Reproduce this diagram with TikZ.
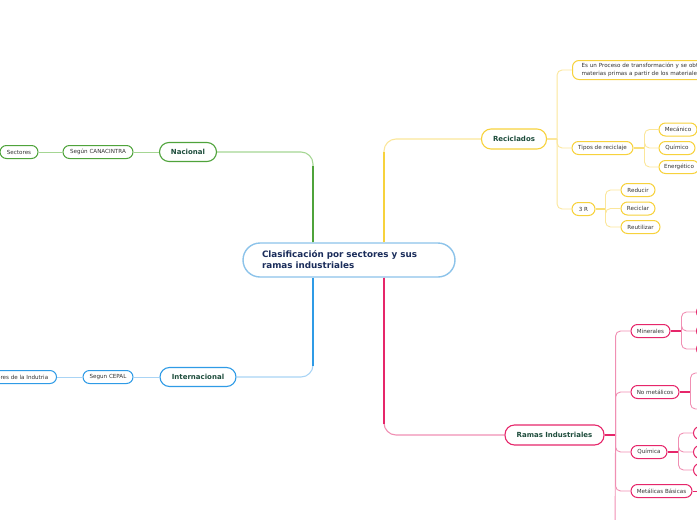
\documentclass[tikz,border=0pt]{standalone}
\usepackage{fontspec}
\setmainfont{DejaVu Sans}
\definecolor{rootln}{HTML}{8CC3EA}
\definecolor{rootxt}{HTML}{1B2D5B}
\definecolor{maintx}{HTML}{1E4D3C}
\definecolor{subtx}{HTML}{333333}
\definecolor{grn}{HTML}{4FA33B}
\definecolor{grnl}{HTML}{A5D693}
\definecolor{blu}{HTML}{2F9BE6}
\definecolor{blul}{HTML}{A9D4F5}
\definecolor{ylw}{HTML}{F7D23C}
\definecolor{ylwl}{HTML}{FBE69A}
\definecolor{red}{HTML}{E6266A}
\definecolor{redl}{HTML}{F08FB3}
\begin{document}
\begin{tikzpicture}[
    x=1pt, y=-1pt,
    rootnd/.style={draw=rootln, rounded corners=17pt, line width=1.4pt, fill=white,
                   font=\fontsize{8.8}{11}\selectfont\bfseries, text=rootxt,
                   minimum width=212pt, minimum height=34pt, inner xsep=19pt,
                   text width=174pt, align=left},
    mainnd/.style={draw, rounded corners=9.5pt, line width=1.1pt, fill=white,
                   font=\fontsize{7}{8}\selectfont\bfseries, text=maintx,
                   minimum height=19pt, inner xsep=2pt},
    subnd/.style={draw, rounded corners=6.5pt, line width=1pt, fill=white,
                  font=\fontsize{5.6}{7.5}\selectfont, text=subtx,
                  minimum height=13pt, inner xsep=2pt, inner ysep=1pt},
    thk/.style={line width=2.6pt},
    thn/.style={line width=1.1pt, rounded corners=12pt},
    stub/.style={line width=1.6pt},
    brk/.style={line width=0.9pt, rounded corners=5pt}
  ]
  \path[use as bounding box, clip] (0,0) rectangle (697,520);
  % Centre
  \node[rootnd] (root) at (349,260) {Clasificación por sectores y sus\\ramas industriales};
  % Main topics
  \node[mainnd, draw=grn, minimum width=57pt] (nac) at (188,152) {Nacional};
  \node[mainnd, draw=blu, minimum width=76pt] (intl) at (198,377) {Internacional};
  \node[mainnd, draw=ylw, minimum width=65pt, minimum height=20pt] (recic) at (514,139) {Reciclados};
  \node[mainnd, draw=red, minimum width=99pt, minimum height=20pt] (ramas) at (554.5,435) {Ramas Industriales};
  % Nacional side
  \node[subnd, draw=grn, minimum width=70pt] (canac) at (98,152) {Según CANACINTRA};
  \node[subnd, draw=grn, minimum width=38pt] (sect) at (19,152) {Sectores};
  % Internacional side
  \node[subnd, draw=blu, minimum width=50pt] (cepal) at (108,377) {Segun CEPAL};
  \node[subnd, draw=blu, minimum width=80pt, anchor=east] (sind) at (57,377) {Sectores de la Indutria};
  % Reciclados side
  \node[subnd, draw=ylw, anchor=west, minimum height=19pt, text width=150pt, align=left,
        inner xsep=9pt] (def) at (572,70)
        {Es un Proceso de transformación y se obt\\materias primas a partir de los materiales};
  \node[subnd, draw=ylw, minimum width=61pt] (tipos) at (602.5,148) {Tipos de reciclaje};
  \node[subnd, draw=ylw, minimum width=23pt] (tresr) at (583.5,209) {3 R};
  \node[subnd, draw=ylw, minimum width=38pt] (mec) at (678,129.5) {Mecánico};
  \node[subnd, draw=ylw, minimum width=36pt] (quim) at (677,148) {Químico};
  \node[subnd, draw=ylw, minimum width=40pt] (ener) at (679,167) {Energético};
  \node[subnd, draw=ylw, minimum width=34pt] (reduc) at (638,190) {Reducir};
  \node[subnd, draw=ylw, minimum width=34pt] (recla) at (638,208.5) {Reciclar};
  \node[subnd, draw=ylw, minimum width=39pt] (reuti) at (640.5,227) {Reutilizar};
  % Ramas side
  \node[subnd, draw=red, minimum width=39pt] (miner) at (650.5,331) {Minerales};
  \node[subnd, draw=red, minimum width=48pt] (nomet) at (655,392) {No metálicos};
  \node[subnd, draw=red, minimum width=36pt] (quimc) at (649,452) {Química};
  \node[subnd, draw=red, minimum width=61pt] (metb) at (661.5,491) {Metálicas Básicas};
  \foreach \i/\y in {1/312,2/331,3/349}{
    \node[subnd, draw=red, anchor=west, minimum width=30pt] (min\i) at (696,\y) {};
  }
  \foreach \i/\y in {1/433,2/452,3/470}{
    \node[subnd, draw=red, anchor=west, minimum width=30pt] (qui\i) at (693,\y) {};
  }
  \coordinate (nm1) at (708,373);
  \coordinate (nm2) at (708,409);
  \coordinate (mb1) at (708,491);
  \coordinate (rend) at (615,530);
  % Branches from the centre
  \draw[thn, grnl] ([xshift=-36pt]root.north) |- (nac.east);
  \draw[thk, grn] ([xshift=-36pt]root.north) -- ++(0,-76);
  \draw[thn, ylwl] ([xshift=35pt]root.north) |- (recic.west);
  \draw[thk, ylw] ([xshift=35pt]root.north) -- ++(0,-90);
  \draw[thn, blul] ([xshift=-36pt]root.south) |- (intl.east);
  \draw[thk, blu] ([xshift=-36pt]root.south) -- ++(0,88);
  \draw[thn, redl] ([xshift=35pt]root.south) |- (ramas.west);
  \draw[thk, red] ([xshift=35pt]root.south) -- ++(0,146);
  % Left chains
  \draw[brk, grnl] (nac.west) -- (canac.east);
  \draw[brk, grnl] (canac.west) -- (sect.east);
  \draw[brk, blul] (intl.west) -- (cepal.east);
  \draw[brk, blul] (cepal.west) -- (sind.east);
  % Reciclados brackets
  \draw[stub, ylwl] (recic.east) -- ++(10,0) coordinate (rb);
  \foreach \c in {def,tipos,tresr} \draw[brk, ylwl] (rb) |- (\c.west);
  \draw[stub, ylw!70] (tipos.east) -- ++(11,0) coordinate (tb);
  \foreach \c in {mec,quim,ener} \draw[brk, ylwl] (tb) |- (\c.west);
  \draw[stub, ylw!70] (tresr.east) -- ++(10,0) coordinate (trb);
  \foreach \c in {reduc,recla,reuti} \draw[brk, ylwl] (trb) |- (\c.west);
  % Ramas brackets
  \draw[stub, red] (ramas.east) -- ++(11,0) coordinate (ramb);
  \foreach \c in {miner,nomet,quimc,metb} \draw[brk, redl] (ramb) |- (\c.west);
  \draw[brk, redl] (ramb) -- (rend);
  \draw[stub, red] (miner.east) -- ++(11,0) coordinate (mnb);
  \foreach \c in {min1,min2,min3} \draw[brk, redl] (mnb) |- (\c.west);
  \draw[stub, red] (nomet.east) -- ++(11,0) coordinate (nmb);
  \foreach \c in {nm1,nm2} \draw[brk, redl] (nmb) |- (\c);
  \draw[stub, red] (quimc.east) -- ++(11,0) coordinate (qmb);
  \foreach \c in {qui1,qui2,qui3} \draw[brk, redl] (qmb) |- (\c.west);
  \draw[brk, red] (metb.east) -- (mb1);
\end{tikzpicture}
\end{document}
